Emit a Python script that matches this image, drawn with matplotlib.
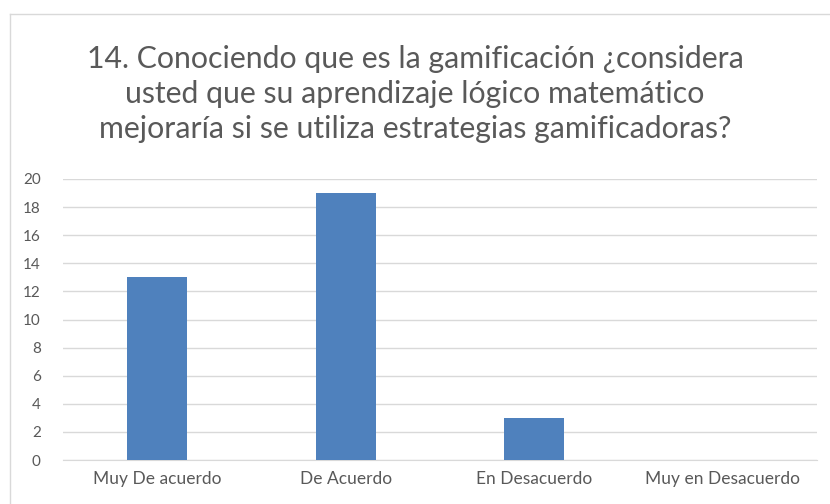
import numpy as np
import matplotlib.pyplot as plt
from matplotlib.lines import Line2D

categories = ["Muy De acuerdo", "De Acuerdo", "En Desacuerdo", "Muy en Desacuerdo"]
values = [13, 19, 3, 0]
yticks = [0, 2, 4, 6, 8, 10, 12, 14, 16, 18, 20]
title = ("14. Conociendo que es la gamificación ¿considera\n"
         "usted que su aprendizaje lógico matemático\n"
         "mejoraría si se utiliza estrategias gamificadoras?")

W, H = 830, 504
fig = plt.figure(figsize=(W / 100, H / 100), dpi=100)
plt.rcParams['font.family'] = ['Lato', 'DejaVu Sans']

# plot area in pixels: x 63..817, y 179..460
ax = fig.add_axes([63 / W, 1 - 460 / H, (817 - 63) / W, (460 - 179) / H])

x = np.arange(len(categories))
ax.bar(x, values, width=0.32, color="#4f81bd", zorder=3)

ax.set_xlim(-0.5, len(categories) - 0.5)
ax.set_ylim(0, 20)
ax.set_yticks(yticks)
ax.set_xticks(x)
ax.set_xticklabels(categories)
ax.grid(axis="y", color="#d9d9d9", linewidth=1, zorder=0)
for s in ["top", "right", "left"]:
    ax.spines[s].set_visible(False)
ax.spines["bottom"].set_color("#d9d9d9")
ax.tick_params(axis="both", length=0, colors="#595959")
ax.tick_params(axis="y", pad=16, labelsize=11)
ax.tick_params(axis="x", pad=8, labelsize=12.5)

fig.text(0.5, 1 - 94 / H, title, ha="center", va="center", fontsize=21.8,
         color="#595959", linespacing=1.32)

# chart border (left and top edges visible)
fig.add_artist(Line2D([10 / W, 10 / W], [0, 1 - 14 / H], transform=fig.transFigure,
                      color="#d9d9d9", linewidth=1))
fig.add_artist(Line2D([10 / W, 1], [1 - 14 / H, 1 - 14 / H], transform=fig.transFigure,
                      color="#d9d9d9", linewidth=1))

fig.savefig("out.png", dpi=100)
